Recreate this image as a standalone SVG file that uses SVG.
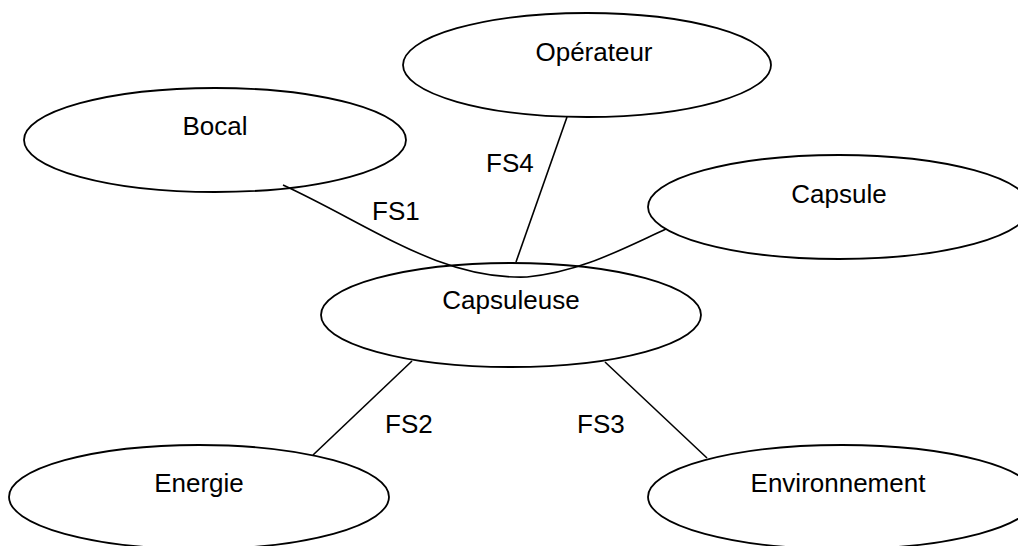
<svg xmlns="http://www.w3.org/2000/svg" width="1018" height="546" viewBox="0 0 1018 546">
<style>
.n{fill:#fff;stroke:#000;stroke-width:1.8}
.c{fill:none;stroke:#000;stroke-width:1.6}
text{font-family:"Liberation Sans",Arial,sans-serif;font-size:26px;fill:#000}
.m{text-anchor:middle}
</style>
<rect width="1018" height="546" fill="#fff"/>
<g id="n-bocal"><ellipse class="n" cx="215" cy="140" rx="191" ry="52"/><text class="m" x="215" y="135">Bocal</text></g>
<g id="n-operateur"><ellipse class="n" cx="587" cy="65" rx="184" ry="52"/><text class="m" x="594" y="61">Opérateur</text></g>
<g id="n-capsule"><ellipse class="n" cx="839" cy="207" rx="191" ry="52"/><text class="m" x="839" y="203">Capsule</text></g>
<g id="n-capsuleuse"><ellipse class="n" cx="511" cy="315" rx="190" ry="52"/><text class="m" x="511" y="309">Capsuleuse</text></g>
<g id="n-energie"><ellipse class="n" cx="199" cy="497" rx="190" ry="52"/><text class="m" x="199" y="492">Energie</text></g>
<g id="n-environnement"><ellipse class="n" cx="842" cy="497" rx="194" ry="52"/><text class="m" x="838" y="492">Environnement</text></g>
<g id="connectors">
<path class="c" d="M283,185 C370,225 440,280 527,277 C580,272 620,250 666,229"/>
<line class="c" x1="567" y1="117" x2="516" y2="262"/>
<line class="c" x1="412" y1="361" x2="313" y2="455"/>
<line class="c" x1="605" y1="362" x2="707" y2="458"/>
<text x="372" y="220">FS1</text>
<text x="486" y="172">FS4</text>
<text x="385" y="433">FS2</text>
<text x="577" y="433">FS3</text>
</g>
</svg>
